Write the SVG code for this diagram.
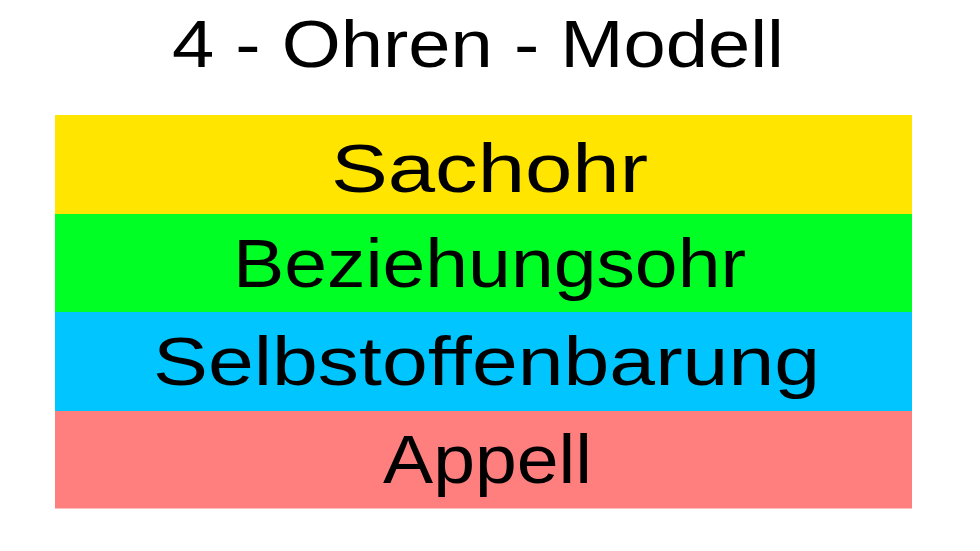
<svg xmlns="http://www.w3.org/2000/svg" width="980" height="551" viewBox="0 0 980 551">
<style>
.t{font-family:"Liberation Sans",Arial,sans-serif;font-size:68px;fill:#000}
</style>
<rect x="0" y="0" width="980" height="551" fill="#fff"/>
<g id="title"><text class="t" x="172" y="67" style="font-size:66px" textLength="612" lengthAdjust="spacingAndGlyphs">4 - Ohren - Modell</text></g>
<g id="sachohr"><rect x="55" y="115" width="857" height="99" fill="#FFE500"/><text class="t" x="331" y="192" textLength="317" lengthAdjust="spacingAndGlyphs">Sachohr</text></g>
<g id="beziehungsohr"><rect x="55" y="214" width="857" height="98" fill="#00FF24"/><text class="t" x="233" y="287" textLength="513" lengthAdjust="spacingAndGlyphs">Beziehungsohr</text></g>
<g id="selbstoffenbarung"><rect x="55" y="312" width="857" height="99" fill="#00C5FF"/><text class="t" x="153" y="385" textLength="667" lengthAdjust="spacingAndGlyphs">Selbstoffenbarung</text></g>
<g id="appell"><rect x="55" y="411" width="857" height="97.5" fill="#FF7F7F"/><text class="t" x="383" y="483" textLength="209" lengthAdjust="spacingAndGlyphs">Appell</text></g>
<g id="connectors"/>
</svg>
